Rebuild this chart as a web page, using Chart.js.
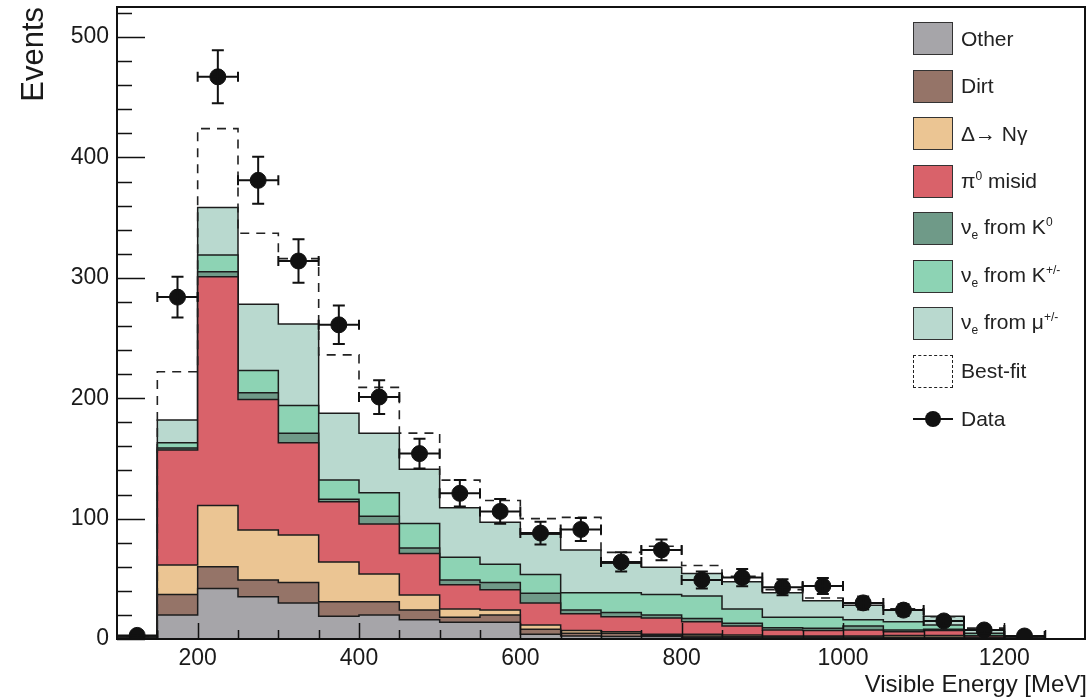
<!DOCTYPE html>
<html>
<head>
<meta charset="utf-8">
<script src="https://cdn.jsdelivr.net/npm/chart.js@4.4.1/dist/chart.umd.min.js"></script>
<style>
  html, body { margin: 0; padding: 0; background: #fff; }
  #wrap { position: relative; width: 1089px; height: 699px; }
  #hist { display: block; }
  #legend {
    position: absolute; left: 913px; top: 15px;
    font-family: "Liberation Sans", Arial, sans-serif; font-size: 21px; color: #222;
  }
  #legend .row { height: 47.5px; display: flex; align-items: center; }
  #legend .sw { width: 40px; height: 33px; border: 1px solid #333; box-sizing: border-box; margin-right: 8px; }
  #legend .dash { border: 1.5px dashed #222; background: #fff; }
  #legend .pt { width: 40px; height: 33px; margin-right: 8px; position: relative; }
  #legend .pt::before { content: ""; position: absolute; left: 0; right: 0; top: 15.5px; height: 2px; background: #111; }
  #legend .pt::after { content: ""; position: absolute; left: 12px; top: 8.5px; width: 16px; height: 16px; border-radius: 50%; background: #111; }
  #legend sub, #legend sup { font-size: 12px; }
</style>
</head>
<body>
<div id="wrap">
  <canvas id="hist" width="1089" height="699"></canvas>
  <div id="legend"></div>
</div>
<script>
// bin edges [MeV]
var binEdges = [100, 150, 200, 250, 300, 350, 400, 450, 500, 550, 600, 650, 700, 750, 800, 850, 900, 950, 1000, 1050, 1100, 1150, 1200, 1250];

// stacked background, read as cumulative tops of each layer (events per bin)
var otherTop = [0.5, 20, 42, 35, 30, 19, 20, 16, 14, 14, 4, 2.5, 2, 2, 1.5, 1.2, 1, 1, 1, 1, 1, 0.5, 0.3];
var dirtTop  = [0.8, 37, 60, 49, 47, 31, 31, 24, 18, 20, 8, 4.7, 4.7, 3, 2.5, 2, 1.8, 1.8, 1.6, 1.5, 1.5, 0.8, 0.4];
var deltaTop = [1.0, 61.5, 111, 90.5, 86.4, 64, 54, 36.5, 25, 24, 11.6, 7, 6, 4, 4, 3.3, 2.5, 2.5, 2.5, 3, 3, 1.2, 0.5];
var pi0Top   = [1.4, 157, 301, 199, 163, 114, 95.5, 71, 45, 41, 30, 21, 18.5, 17.5, 14.4, 10.8, 7.5, 7, 7.5, 6, 7, 2.5, 0.8];
var k0Top    = [1.5, 158.6, 305, 204.6, 171, 116, 102, 75.5, 49, 47, 38, 24, 22, 20, 17, 13, 9.4, 9, 10.8, 7.5, 8, 3, 0.9];
var kpmTop   = [1.7, 163, 319, 223, 194, 132, 121.5, 96, 68, 62, 53.5, 38.5, 38.5, 37, 35.7, 25, 18, 18, 16, 14.4, 11.6, 4.7, 1.1];
var muTop    = [2.0, 182, 358.5, 278, 261.6, 187.5, 171, 141, 109, 97, 87, 74, 63, 59.5, 54.5, 47.6, 38.5, 31.8, 28, 24, 19, 7.5, 1.4];

var bestFit  = [2, 222, 424, 337, 316, 236, 209, 171, 132, 115, 100, 101, 72, 77, 61, 52, 41, 34, 30, 25, 18.5, 9, 1.5];
var dataEvents = [3, 284, 467, 381, 314, 261, 201, 154, 121, 106, 88, 91, 64, 74, 49, 51, 43, 44, 30, 24, 15, 7.5, 2.5];
var dataErr    = [2, 17, 22, 19.5, 18, 16, 14, 12.4, 11, 10.3, 9.4, 9.5, 8, 8.6, 7, 7.1, 6.6, 6.6, 5.4, 4.9, 3.9, 2.7, 1.6];

var yTicks = [0, 100, 200, 300, 400, 500];
var xTicks = [200, 400, 600, 800, 1000, 1200];

var layerNames  = ['Other', 'Dirt', 'Δ→ Nγ', 'π<sup>0</sup> misid', 'ν<sub>e</sub> from K<sup>0</sup>', 'ν<sub>e</sub> from K<sup>+/-</sup>', 'ν<sub>e</sub> from μ<sup>+/-</sup>'];
var layerColors = ['#a6a5a9', '#957468', '#ebc593', '#d9626a', '#6f9a88', '#8dd3b4', '#b9d9cf'];
var layerTops   = [otherTop, dirtTop, deltaTop, pi0Top, k0Top, kpmTop, muTop];

var FONT = '"Liberation Sans", Arial, sans-serif';

// histogram -> step points on the bin edges
function steps(vals) {
  var pts = binEdges.map(function (e, i) {
    return { x: e, y: vals[Math.min(i, vals.length - 1)] };
  });
  pts.push({ x: binEdges[binEdges.length - 1], y: 0 });
  return pts;
}

var datasets = layerTops.map(function (tops, i) {
  return {
    label: layerNames[i],
    data: steps(tops),
    stepped: 'before',
    fill: i === 0 ? 'origin' : '-1',
    backgroundColor: layerColors[i],
    borderColor: '#1c1c1c',
    borderWidth: 1.5,
    pointRadius: 0,
    order: 1
  };
});

datasets.push({
  label: 'Best-fit',
  data: steps(bestFit),
  stepped: 'before',
  fill: false,
  borderColor: '#222',
  borderWidth: 1.6,
  borderDash: [9, 7],
  pointRadius: 0,
  order: 0
});

datasets.push({
  label: 'Data',
  data: dataEvents.map(function (v, i) { return { x: (binEdges[i] + binEdges[i + 1]) / 2, y: v }; }),
  showLine: false,
  pointRadius: 8,
  pointBackgroundColor: '#111',
  pointBorderColor: '#111',
  order: -1
});

// error bars on the data points
var errorBars = {
  id: 'errorBars',
  afterDatasetsDraw: function (chart) {
    var ctx = chart.ctx, xs = chart.scales.x, ys = chart.scales.y, a = chart.chartArea;
    ctx.save();
    ctx.beginPath();
    ctx.rect(a.left, a.top, a.right - a.left, a.bottom - a.top);
    ctx.clip();
    ctx.strokeStyle = '#111';
    ctx.lineWidth = 2;
    dataEvents.forEach(function (v, i) {
      var xl = xs.getPixelForValue(binEdges[i]), xr = xs.getPixelForValue(binEdges[i + 1]);
      var xc = (xl + xr) / 2, yc = ys.getPixelForValue(v);
      var yt = ys.getPixelForValue(v + dataErr[i]), yb = ys.getPixelForValue(v - dataErr[i]);
      ctx.beginPath();
      ctx.moveTo(xl, yc); ctx.lineTo(xr, yc);
      ctx.moveTo(xl, yc - 5); ctx.lineTo(xl, yc + 5);
      ctx.moveTo(xr, yc - 5); ctx.lineTo(xr, yc + 5);
      ctx.moveTo(xc, yt); ctx.lineTo(xc, yb);
      ctx.moveTo(xc - 6, yt); ctx.lineTo(xc + 6, yt);
      ctx.moveTo(xc - 6, yb); ctx.lineTo(xc + 6, yb);
      ctx.stroke();
    });
    ctx.restore();
  }
};

// ROOT style frame, inward ticks and axis titles
var frame = {
  id: 'frame',
  afterDraw: function (chart) {
    var ctx = chart.ctx, xs = chart.scales.x, ys = chart.scales.y, a = chart.chartArea;
    ctx.save();
    ctx.strokeStyle = '#111';
    ctx.lineWidth = 2;
    ctx.strokeRect(a.left, a.top, a.right - a.left, a.bottom - a.top);
    ctx.lineWidth = 1.5;
    ctx.beginPath();
    for (var v = 0; v <= 520; v += 20) {
      var py = Math.round(ys.getPixelForValue(v)) + 0.5;
      ctx.moveTo(a.left, py);
      ctx.lineTo(a.left + (v % 100 === 0 ? 28 : 15), py);
    }
    for (var e = 150; e < 1300; e += 50) {
      var px = Math.round(xs.getPixelForValue(e)) + 0.5;
      ctx.moveTo(px, a.bottom);
      ctx.lineTo(px, a.bottom - (e % 200 === 0 ? 16 : 9));
    }
    ctx.stroke();

    ctx.fillStyle = '#1a1a1a';
    ctx.font = '24px ' + FONT;
    ctx.textAlign = 'right';
    ctx.textBaseline = 'alphabetic';
    ctx.fillText('Visible Energy [MeV]', a.right + 2, 692);

    ctx.translate(43, a.top);
    ctx.rotate(-Math.PI / 2);
    ctx.font = '31px ' + FONT;
    ctx.textAlign = 'right';
    ctx.fillText('Events', 0, 0);
    ctx.restore();
  }
};

function plain(v) { return String(v); }

new Chart(document.getElementById('hist'), {
  type: 'line',
  data: { datasets: datasets },
  options: {
    responsive: false,
    animation: false,
    layout: { autoPadding: false, padding: { top: 7, right: 4, left: 0, bottom: 0 } },
    plugins: { legend: { display: false }, tooltip: { enabled: false } },
    scales: {
      x: {
        type: 'linear',
        min: 100,
        max: 1300,
        afterBuildTicks: function (s) { s.ticks = xTicks.map(function (v) { return { value: v }; }); },
        afterFit: function (s) { s.height = 60; s.paddingLeft = 0; s.paddingRight = 0; },
        grid: { display: false, drawTicks: false },
        border: { display: false },
        ticks: { color: '#1a1a1a', font: { family: FONT, size: 23 }, padding: 6, maxRotation: 0, callback: plain }
      },
      y: {
        min: 0,
        max: 525,
        afterBuildTicks: function (s) { s.ticks = yTicks.map(function (v) { return { value: v }; }); },
        afterFit: function (s) { s.width = 117; s.paddingTop = 0; s.paddingBottom = 0; },
        grid: { display: false, drawTicks: false },
        border: { display: false },
        ticks: { color: '#1a1a1a', font: { family: FONT, size: 23 }, padding: 8, callback: plain }
      }
    }
  },
  plugins: [errorBars, frame]
});

// legend, top to bottom as in the figure
var legend = document.getElementById('legend');
var html = '';
for (var i = 0; i < layerNames.length; i++) {
  html += '<div class="row"><div class="sw" style="background:' + layerColors[i] + '"></div><span>' + layerNames[i] + '</span></div>';
}
html += '<div class="row"><div class="sw dash"></div><span>Best-fit</span></div>';
html += '<div class="row"><div class="pt"></div><span>Data</span></div>';
legend.innerHTML = html;
</script>
</body>
</html>
